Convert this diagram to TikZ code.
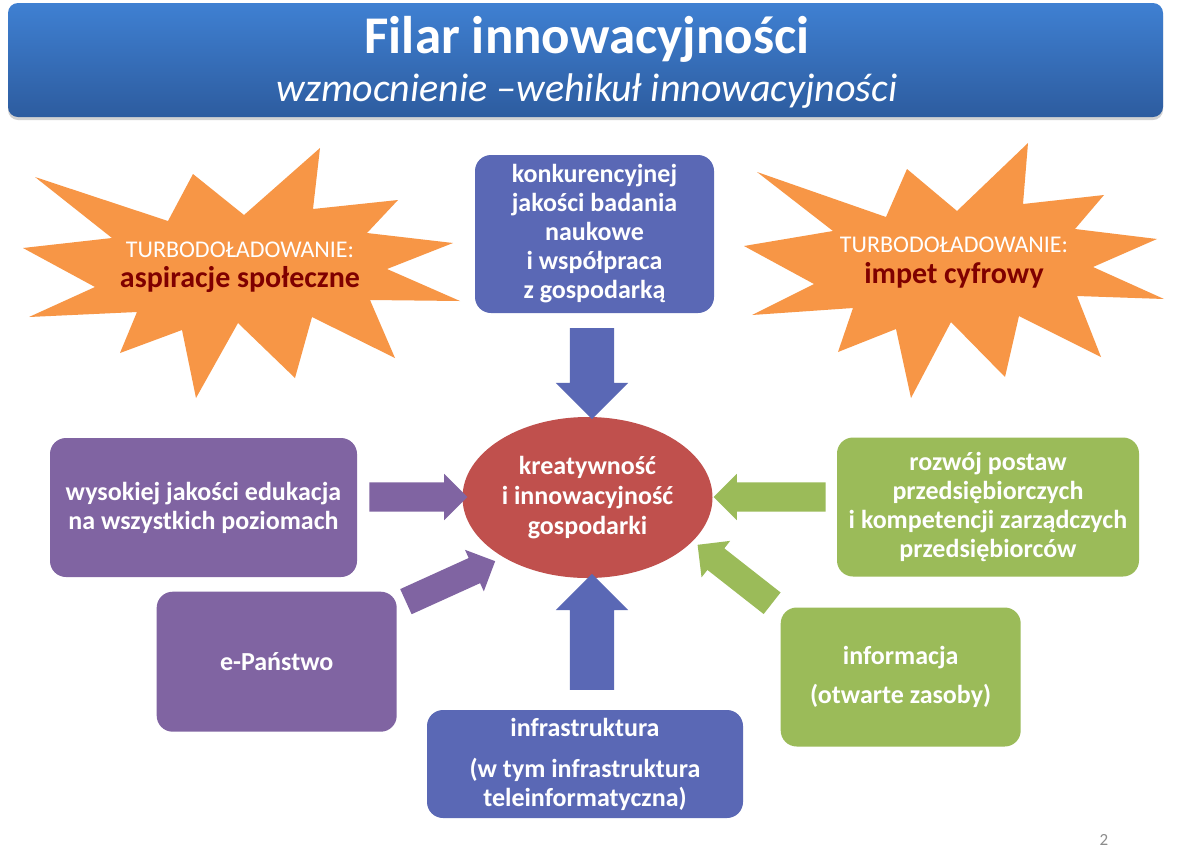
\documentclass[tikz,border=0pt]{standalone}
\usepackage{fontspec}
\setmainfont{Carlito}
\usetikzlibrary{shapes.arrows,shapes.geometric,shadows}
\definecolor{blueB}{HTML}{5A68B5}
\definecolor{purpleB}{HTML}{8064A2}
\definecolor{greenB}{HTML}{9BBB59}
\definecolor{redE}{HTML}{C0504D}
\definecolor{orangeS}{HTML}{F79646}
\definecolor{darkredT}{HTML}{7F0000}
\definecolor{bannerTop}{HTML}{3F80D2}
\definecolor{bannerBot}{HTML}{2D5C9F}
\definecolor{pageGray}{HTML}{8C8C8C}
\begin{document}
\begin{tikzpicture}[x=1pt,y=-1pt,
  box/.style={rounded corners=16pt, text=white, font=\fontsize{26}{29}\selectfont\bfseries, align=center, inner sep=0pt},
  barrow/.style n args={4}{single arrow, fill=#1, draw=none, inner xsep=0pt, inner ysep=#2, single arrow head extend=#3, minimum height=#4, minimum width=0pt, outer sep=0pt},
  star/.style={fill=orangeS, draw=none},
  startop/.style={text=white, font=\fontsize{24}{26}\selectfont, anchor=base},
  starbig/.style={text=darkredT, font=\fontsize{30}{32}\selectfont\bfseries, anchor=base}
]
\useasboundingbox (0,0) rectangle (1178,863);
\fill[white] (0,0) rectangle (1178,863);

% banner
\node[rounded corners=10pt, top color=bannerTop, bottom color=bannerBot, minimum width=1155pt, minimum height=114pt, inner sep=0pt,
  drop shadow={opacity=0.35, shadow xshift=0pt, shadow yshift=-3pt}] (banner) at (585.5,60) {};
\node[text=white, font=\fontsize{53}{56}\selectfont\bfseries, anchor=base] (title) at (587,53) {Filar innowacyjności};
\node[text=white, font=\fontsize{40}{44}\selectfont\itshape, anchor=base] (subtitle) at (587,101) {wzmocnienie –wehikuł innowacyjności};

% starbursts
\fill[star] (23,248) -- (112,238) -- (35,177) -- (168,221) -- (193,174) -- (244,215) -- (320,148) -- (313,209) -- (398,200) -- (367,233) -- (453,243) -- (387,269) -- (460,301) -- (370,300) -- (395,358) -- (312,317) -- (295,378) -- (238,323) -- (196,398) -- (182,330) -- (120,353) -- (137,312) -- (29,317) -- (95,287) -- cycle;
\fill[star] (744,246) -- (833,231) -- (757,172) -- (886,217) -- (907,169) -- (957,211) -- (1028,143) -- (1023,204) -- (1104,195) -- (1075,229) -- (1157,239) -- (1093,267) -- (1164,299) -- (1077,296) -- (1101,357) -- (1019,316) -- (1005,377) -- (951,322) -- (911,398) -- (896,329) -- (838,352) -- (853,308) -- (752,315) -- (814,284) -- cycle;
\node[startop] (ls1) at (240,257) {TURBODOŁADOWANIE:};
\node[starbig] (ls2) at (240,287) {aspiracje społeczne};
\node[startop] (rs1) at (954,252) {TURBODOŁADOWANIE:};
\node[starbig] (rs2) at (954,283) {impet cyfrowy};

% boxes
\node[box, fill=blueB, minimum width=239pt, minimum height=158pt] (tb) at (594.5,234) {konkurencyjnej\\jakości badania\\naukowe\\i współpraca\\z gospodarką};
\node[box, fill=purpleB, minimum width=307pt, minimum height=139pt] (edu) at (203.5,507.5) {wysokiej jakości edukacja\\na wszystkich poziomach};
\node[box, fill=purpleB, minimum width=240pt, minimum height=140pt] (ep) at (276.7,661.7) {e-Państwo};
\node[box, fill=greenB, minimum width=302pt, minimum height=139pt] (roz) at (988,507) {rozwój postaw\\przedsiębiorczych\\i kompetencji zarządczych\\przedsiębiorców};
\node[box, fill=greenB, minimum width=240pt, minimum height=139pt] (inf) at (900.7,677) {informacja\\[10pt](otwarte zasoby)};
\node[box, fill=blueB, minimum width=316pt, minimum height=108pt] (infra) at (585,764) {infrastruktura\\[12pt](w tym infrastruktura\\teleinformatyczna)};

% center ellipse
\node[ellipse, fill=redE, minimum width=250pt, minimum height=161pt, inner sep=0pt, text=white, align=center,
  font=\fontsize{26}{30}\selectfont\bfseries] (core) at (587.5,497.5) {kreatywność\\i innowacyjność\\gospodarki};

% block arrows
\node[barrow={blueB}{22pt}{14pt}{91pt}, rotate=-90] (a1) at (592,362.5) {};
\node[barrow={blueB}{22pt}{14pt}{116pt}, rotate=90] (a2) at (592,643) {};
\node[barrow={purpleB}{14.5pt}{8.5pt}{98pt}] (a3) at (411,497) {};
\node[barrow={greenB}{14.5pt}{8.5pt}{112pt}, rotate=180] (a4) at (777,497) {};
\node[barrow={purpleB}{13.6pt}{9pt}{98pt}, rotate=24.4] (a5) at (444.25,584.25) {};
\node[barrow={greenB}{13.5pt}{9.5pt}{94.7pt}, rotate=141.9] (a6) at (740.25,578.25) {};

% page number
\node[text=pageGray, font=\fontsize{17}{20}\selectfont] (pg) at (1104,840) {2};
\end{tikzpicture}
\end{document}
